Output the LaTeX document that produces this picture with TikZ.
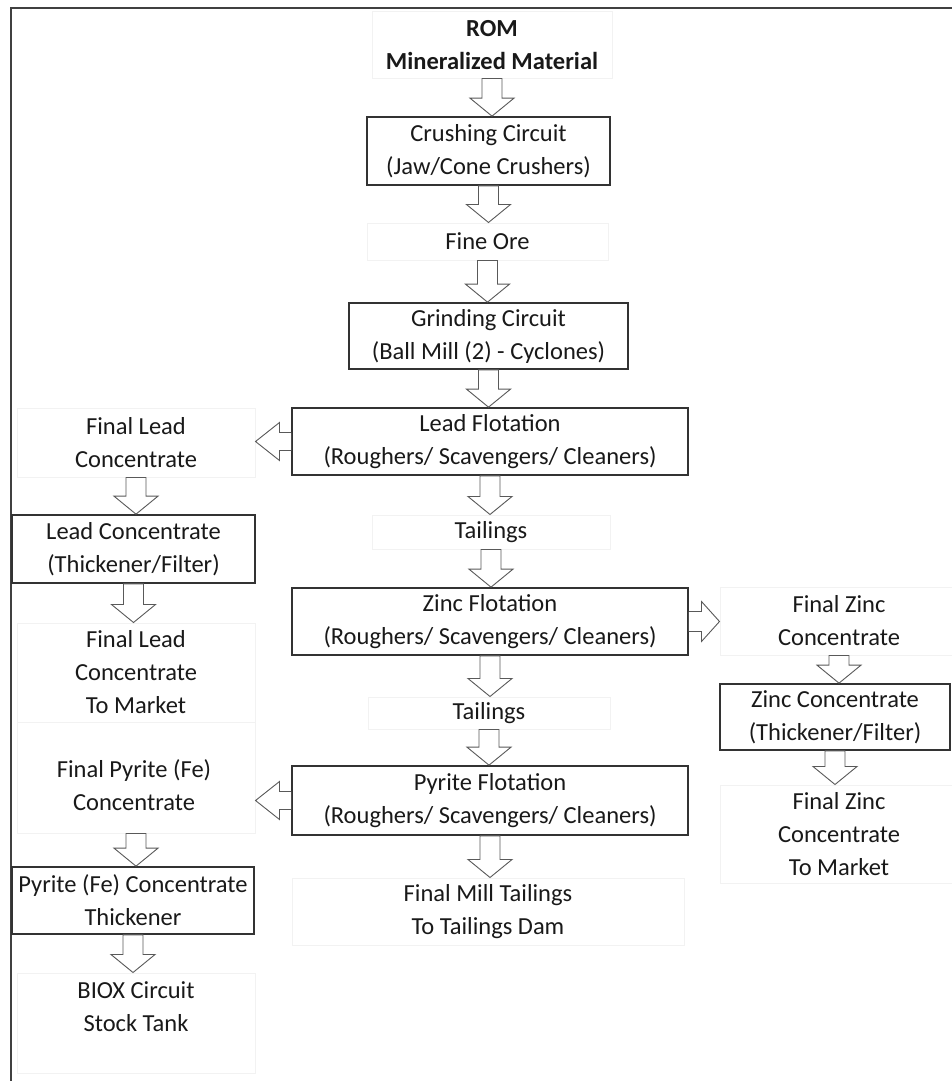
\documentclass[tikz,border=0pt]{standalone}
\usepackage{fontspec}
\setmainfont{Carlito}
\usetikzlibrary{calc}
\newcommand\dfont{\fontsize{24.5}{33}\selectfont}
\newcommand\varr[2]{\draw[blk] let \p1=(#1), \p2=(#2) in
  (\x1-10pt,\y1) -- (\x1+10pt,\y1) -- (\x1+10pt,\y2+18pt) -- (\x1+22pt,\y2+18pt)
  -- (\x1,\y2) -- (\x1-22pt,\y2+18pt) -- (\x1-10pt,\y2+18pt) -- cycle;}
\newcommand\larr[2]{\draw[blk] let \p1=(#1), \p2=(#2) in
  (\x1,\y1+9pt) -- (\x2+24pt,\y1+9pt) -- (\x2+24pt,\y1+19pt) -- (\x2,\y1)
  -- (\x2+24pt,\y1-19pt) -- (\x2+24pt,\y1-9pt) -- (\x1,\y1-9pt);}
\newcommand\rarr[2]{\draw[blk] let \p1=(#1), \p2=(#2) in
  (\x1,\y1+10pt) -- (\x2-18pt,\y1+10pt) -- (\x2-18pt,\y1+20pt) -- (\x2,\y1)
  -- (\x2-18pt,\y1-20pt) -- (\x2-18pt,\y1-10pt) -- (\x1,\y1-10pt);}
\begin{document}
\begin{tikzpicture}[x=1pt,y=1pt,
  box/.style={draw=black!80, line width=1.7pt, align=center, inner sep=0pt, font=\dfont, text=black!90},
  faint/.style={draw=black!5, line width=1pt, align=center, inner sep=0pt, font=\dfont, text=black!90},
  txt/.style={align=center, inner sep=0pt, font=\dfont, text=black!90},
  blk/.style={draw=black!65, fill=white, line width=0.9pt, line join=miter}]
\useasboundingbox (0,0) rectangle (951,-1081);
\fill[white] (0,0) rectangle (951,-1081);
\draw[line width=1.8pt, draw=black!75] (11,-1095) -- (11,-8) -- (965,-8);

% main column
\node[faint, minimum width=240, minimum height=66] (rom) at (492,-45) {\bfseries ROM\\\bfseries Mineralized Material};
\node[box, minimum width=243, minimum height=68] (crush) at (488.5,-151) {Crushing Circuit\\(Jaw/Cone Crushers)};
\node[faint, minimum width=241, minimum height=37] (fine) at (487.5,-241.5) {Fine Ore};
\node[box, minimum width=279, minimum height=66] (grind) at (488.5,-336) {Grinding Circuit\\(Ball Mill (2) - Cyclones)};
\node[box, minimum width=396, minimum height=67] (lead) at (490,-441.5) {Lead Flotation\\(Roughers/ Scavengers/ Cleaners)};
\node[faint, minimum width=238, minimum height=34] (tail1) at (491,-532) {Tailings};
\node[box, minimum width=396, minimum height=67] (zinc) at (490,-621.5) {Zinc Flotation\\(Roughers/ Scavengers/ Cleaners)};
\node[faint, minimum width=242, minimum height=32] (tail2) at (489,-713) {Tailings};
\node[box, minimum width=396, minimum height=69] (pyr) at (490,-800.5) {Pyrite Flotation\\(Roughers/ Scavengers/ Cleaners)};
\node[faint, minimum width=392, minimum height=67] (mill) at (488,-911.5) {Final Mill Tailings\\To Tailings Dam};

% left column
\node[faint, minimum width=238, minimum height=69] (fl) at (136,-442.5) {Final Lead\\Concentrate};
\node[box, minimum width=243, minimum height=68] (lc) at (133.5,-549) {Lead Concentrate\\(Thickener/Filter)};
\node[faint, minimum width=238, minimum height=99] (flm) at (136,-672.5) {Final Lead\\Concentrate\\To Market};
\node[faint, minimum width=238, minimum height=111] (fpy) at (136,-777.5) {};
\node[txt] (fpytxt) at (134,-785) {\fontsize{24.5}{36}\selectfont Final Pyrite (Fe)\\Concentrate};
\node[box, minimum width=242, minimum height=67] (pct) at (133,-900.5) {Pyrite (Fe) Concentrate\\Thickener};
\node[faint, minimum width=238, minimum height=100] (biox) at (136,-1023) {BIOX Circuit\\Stock Tank\\\mbox{}};

% right column
\node[faint, minimum width=238, minimum height=68] (fz) at (839,-621) {Final Zinc\\Concentrate};
\node[box, minimum width=230, minimum height=66] (zc) at (835,-717) {Zinc Concentrate\\(Thickener/Filter)};
\node[faint, minimum width=238, minimum height=98] (fzm) at (839,-834) {Final Zinc\\Concentrate\\To Market};

% arrows
\varr{rom.south}{crush.north}
\varr{crush.south}{fine.north}
\varr{fine.south}{grind.north}
\varr{grind.south}{lead.north}
\varr{lead.south}{tail1.north}
\varr{tail1.south}{zinc.north}
\varr{zinc.south}{tail2.north}
\varr{tail2.south}{pyr.north}
\varr{pyr.south}{mill.north}
\varr{fl.south}{lc.north}
\varr{lc.south}{flm.north}
\varr{fpy.south}{pct.north}
\varr{pct.south}{biox.north}
\varr{fz.south}{zc.north}
\varr{zc.south}{fzm.north}
\larr{lead.west}{fl.east}
\larr{pyr.west}{fpy.east}
\rarr{zinc.east}{fz.west}
\end{tikzpicture}
\end{document}
